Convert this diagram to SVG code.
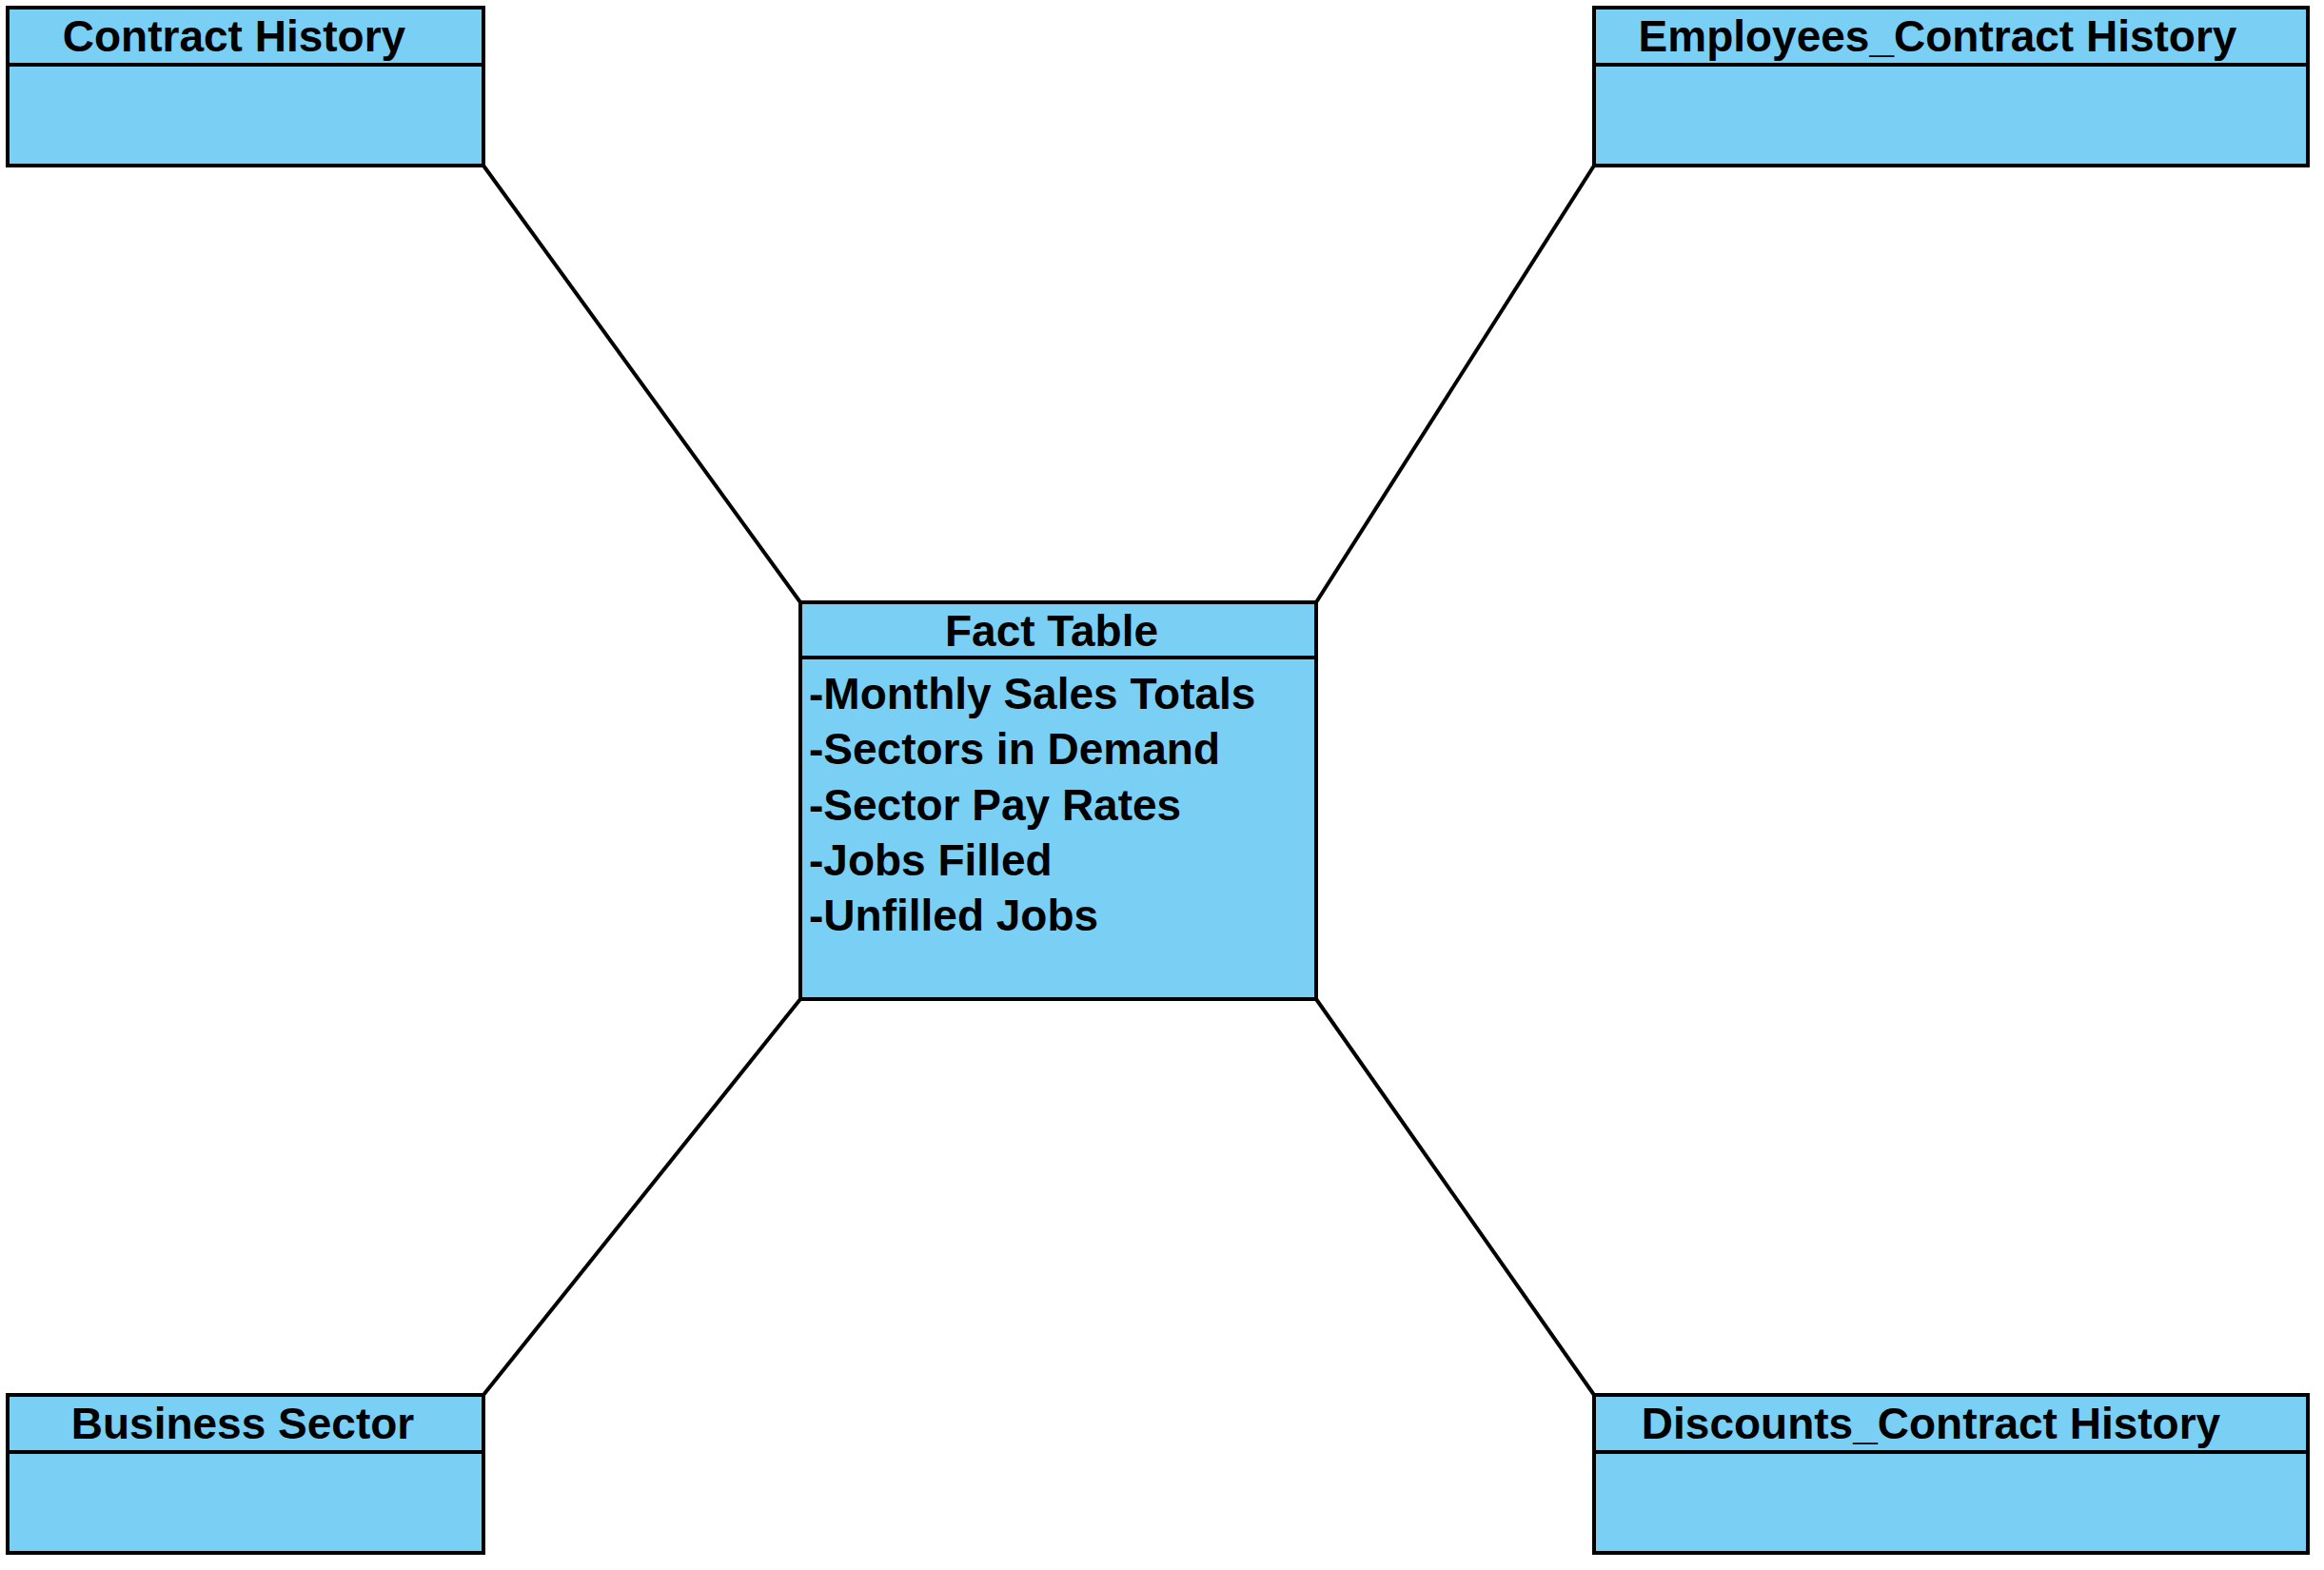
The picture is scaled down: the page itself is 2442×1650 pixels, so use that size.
<svg xmlns="http://www.w3.org/2000/svg" width="2442" height="1650" viewBox="0 0 2442 1650">
<style>
.box{fill:#7acff4;stroke:#000;stroke-width:4}
.sep{stroke:#000;stroke-width:4}
.t{font-family:"Liberation Sans",Arial,sans-serif;font-weight:bold;font-size:46px;fill:#000}
.c{text-anchor:middle}
.conn line{stroke:#000;stroke-width:4}
</style>
<rect width="2442" height="1650" fill="#fff"/>
<g id="connectors" class="conn">
<line x1="508" y1="174" x2="841" y2="633"/>
<line x1="1675" y1="174" x2="1383" y2="633"/>
<line x1="508" y1="1466" x2="841" y2="1050"/>
<line x1="1675" y1="1466" x2="1383" y2="1050"/>
</g>
<g id="contract-history">
<rect class="box" x="8" y="8" width="500" height="166"/>
<line class="sep" x1="8" y1="68" x2="508" y2="68"/>
<text class="t c" x="246" y="54">Contract History</text>
</g>
<g id="employees-contract-history">
<rect class="box" x="1675" y="8" width="750" height="166"/>
<line class="sep" x1="1675" y1="68" x2="2425" y2="68"/>
<text class="t c" x="2036" y="54">Employees_Contract History</text>
</g>
<g id="fact-table">
<rect class="box" x="841" y="633" width="542" height="417"/>
<line class="sep" x1="841" y1="691" x2="1383" y2="691"/>
<text class="t c" x="1105" y="679">Fact Table</text>
<text class="t" x="850" y="745">-Monthly Sales Totals</text>
<text class="t" x="850" y="803">-Sectors in Demand</text>
<text class="t" x="850" y="862">-Sector Pay Rates</text>
<text class="t" x="850" y="920">-Jobs Filled</text>
<text class="t" x="850" y="978">-Unfilled Jobs</text>
</g>
<g id="business-sector">
<rect class="box" x="8" y="1466" width="500" height="166"/>
<line class="sep" x1="8" y1="1526" x2="508" y2="1526"/>
<text class="t c" x="255" y="1512">Business Sector</text>
</g>
<g id="discounts-contract-history">
<rect class="box" x="1675" y="1466" width="750" height="166"/>
<line class="sep" x1="1675" y1="1526" x2="2425" y2="1526"/>
<text class="t c" x="2029" y="1512">Discounts_Contract History</text>
</g>
</svg>
